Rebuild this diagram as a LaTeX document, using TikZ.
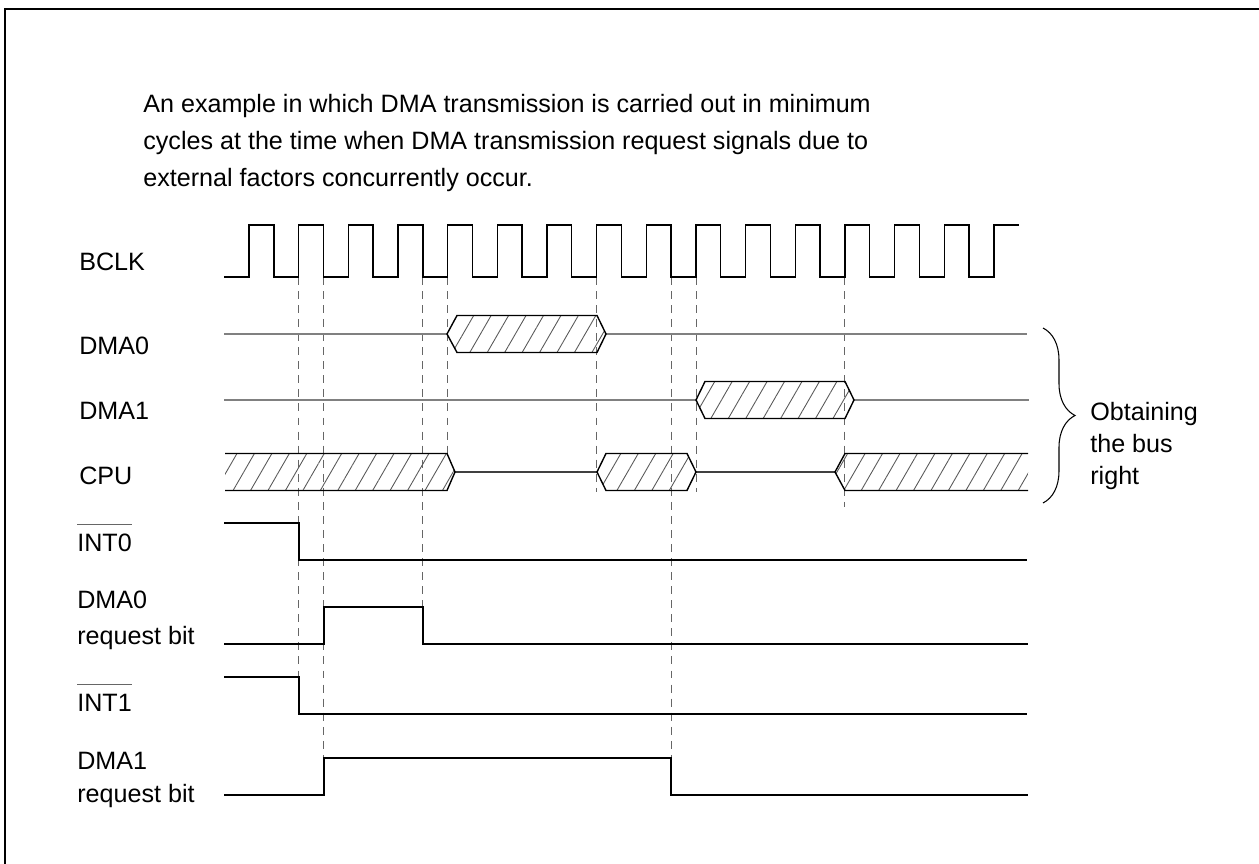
\documentclass[tikz,border=0pt]{standalone}
\usepackage{fontspec}
\setmainfont{Liberation Sans}
\usetikzlibrary{patterns.meta,decorations.pathreplacing}

\tikzset{
  lbl/.style={anchor=base west, inner sep=0pt, font=\fontsize{14.3}{18.2}\selectfont},
  sig/.style={line width=0.8pt},
  idle/.style={line width=0.6pt, black!50},
  tick/.style={line width=0.5pt, black!60, dash pattern=on 4.5pt off 3.5pt},
  hatch/.style={pattern={Lines[angle=60,distance=8.6pt,line width=0.5pt]}, pattern color=black!65},
  bus/.style={line width=0.8pt},
  bar/.style={line width=0.5pt, black!60},
}

\begin{document}
\begin{tikzpicture}[x=0.02cm, y=-0.02cm]
\useasboundingbox (0,0) rectangle (1259,864);

% frame, cut at the right and bottom edge
\begin{scope}
\clip (0,0) rectangle (1259,864);
\draw[line width=1.4pt] (5,9) rectangle (1280,890);
\end{scope}

\node[lbl, anchor=north west, align=left, font=\fontsize{14.3}{21}\selectfont] (title) at (143,94)
  {An example in which DMA transmission is carried out in minimum\\
   cycles at the time when DMA transmission request signals due to\\
   external factors concurrently occur.};

% signal names
\node[lbl] (bclk) at (79,271) {BCLK};
\node[lbl] (dma0) at (79,355) {DMA0};
\node[lbl] (dma1) at (79,420) {DMA1};
\node[lbl] (cpu) at (79,485) {CPU};
\node[lbl] (int0) at (77,552) {INT0};
\node[lbl] (rq0a) at (77,609) {DMA0};
\node[lbl] (rq0b) at (77,645) {request bit};
\node[lbl] (int1) at (77,712) {INT1};
\node[lbl] (rq1a) at (77,770) {DMA1};
\node[lbl] (rq1b) at (77,803) {request bit};
\draw[bar] ([yshift=0.2cm]int0.north west) -- ([yshift=0.2cm]int0.north east);
\draw[bar] ([yshift=0.2cm]int1.north west) -- ([yshift=0.2cm]int1.north east);

% dashed guides from the clock edges
\foreach \k/\yend in {2/678, 3/758, 7/607, 8/454, 14/492, 17/758, 18/492, 24/507}
  \draw[tick] ({249+\k*24.83},277) -- ({249+\k*24.83},\yend);

% BCLK
\draw[sig] (224,277) -- (249,277)
  foreach \k in {0,...,14} { -- ++(0,-52) -- ++(24.83,0) -- ++(0,52) -- ++(24.83,0) }
  -- ++(0,-52) -- ++(25,0);

% DMA0 / DMA1 / CPU bus ownership
\draw[idle] (224,334) -- (447,334);
\draw[idle] (606,334) -- (1027,334);
\draw[idle] (224,400) -- (696,400);
\draw[idle] (854,400) -- (1029,400);
\draw[sig, black!75] (455,472) -- (597,472);
\draw[sig, black!75] (696,472) -- (835,472);

\draw[bus, hatch] (447,334) -- (457,315.5) -- (597,315.5) -- (606,334) -- (597,352.5) -- (457,352.5) -- cycle;
\draw[bus, hatch] (696,400) -- (705,381.5) -- (845,381.5) -- (854,400) -- (845,418.5) -- (705,418.5) -- cycle;
\fill[hatch] (225,453.5) -- (447,453.5) -- (455,472) -- (447,490.5) -- (225,490.5) -- cycle;
\draw[bus] (225,453.5) -- (447,453.5) -- (455,472) -- (447,490.5) -- (225,490.5);
\draw[bus, hatch] (597,472) -- (606,453.5) -- (687,453.5) -- (696,472) -- (687,490.5) -- (606,490.5) -- cycle;
\fill[hatch] (1028,453.5) -- (845,453.5) -- (835,472) -- (845,490.5) -- (1028,490.5) -- cycle;
\draw[bus] (1028,453.5) -- (845,453.5) -- (835,472) -- (845,490.5) -- (1028,490.5);

% interrupt inputs and request bits
\draw[sig] (224,523) -- (299,523) -- (299,560) -- (1027,560);
\draw[sig] (224,644) -- (324,644) -- (324,607) -- (423,607) -- (423,644) -- (1028,644);
\draw[sig] (224,677) -- (299,677) -- (299,714) -- (1027,714);
\draw[sig] (224,795) -- (324,795) -- (324,758) -- (671,758) -- (671,795) -- (1028,795);

% bus right
\draw[line width=0.6pt, decorate, decoration={brace, amplitude=0.64cm}] (1043,328) -- (1043,503);
\node[lbl, anchor=north west, align=left] (busright) at (1090,402) {Obtaining\\the bus\\right};
\end{tikzpicture}
\end{document}
